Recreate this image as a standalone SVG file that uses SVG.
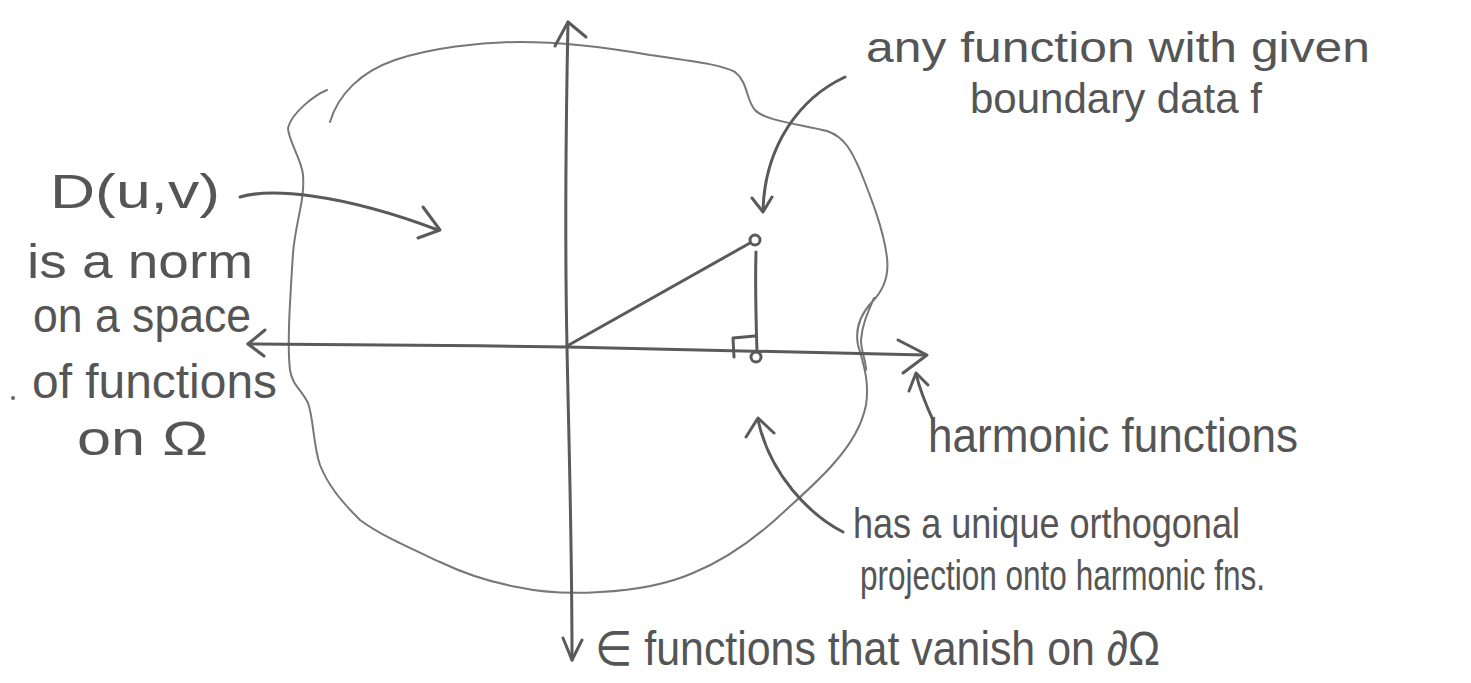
<svg xmlns="http://www.w3.org/2000/svg" width="1471" height="683" viewBox="0 0 1471 683">
<style>
.ink{fill:none;stroke:#5a5a5a;stroke-width:3;stroke-linecap:round;stroke-linejoin:round}
.thin{fill:none;stroke:#777;stroke-width:2;stroke-linecap:round;stroke-linejoin:round}
.lbl{font-family:"Liberation Sans","DejaVu Sans",sans-serif;font-size:48px;fill:#555}
.sm{font-size:43px}
</style>
<rect width="1471" height="683" fill="#fff"/>
<g id="region">
<path class="thin" d="M330,122 C338,95 360,72 395,60 C430,48 480,42 520,42 C560,42 610,48 650,55 C690,61 720,64 735,72 C748,82 746,100 755,110 C765,121 800,124 827,131 C845,137 852,152 860,170 C870,195 884,230 887,258 C889,275 884,290 872,302 C860,315 855,330 858,345 C862,360 870,380 866,405 C862,425 850,445 835,462 C820,480 800,497 775,520 C750,542 720,562 693,573 C670,583 640,590 600,592 C570,594 540,592 517,587 C490,582 465,574 440,562 C410,548 380,535 360,520 C340,500 328,485 320,465 C313,445 314,420 308,403 C302,390 292,385 290,370 C287,345 290,300 293,253 C296,220 305,200 303,175 C302,160 288,140 288,128 C292,112 315,95 327,90"/>
<path class="thin" d="M874,298 C868,312 862,325 861,340 C861,352 866,360 866,370"/>
</g>
<g id="axes">
<path class="ink" d="M568,22 C566,120 565,250 567,347 C569,450 572,540 572,660"/>
<path class="ink" d="M555,46 L568,22 L586,37"/>
<path class="ink" d="M563,638 L572,660 L582,640"/>
<path class="ink" d="M248,344 C350,345 460,345 567,347 C690,350 810,353 925,355"/>
<path class="ink" d="M265,330 L248,344 L264,356"/>
<path class="ink" d="M898,340 L927,355 L903,373"/>
</g>
<g id="projection">
<path class="ink" d="M567,346 L750,243"/>
<circle class="ink" cx="755" cy="240" r="5"/>
<path class="ink" d="M756,252 C755,285 756,320 757,352"/>
<circle class="ink" cx="756" cy="357" r="5"/>
<path class="ink" d="M734,357 L733,338 L755,336"/>
</g>
<g id="connectors">
<path class="ink" d="M240,197 C270,188 340,193 438,230"/>
<path class="ink" d="M423,207 L440,230 L418,238"/>
<path class="ink" d="M845,77 C800,98 765,145 763,210"/>
<path class="ink" d="M752,198 L763,212 L772,197"/>
<path class="ink" d="M843,532 C810,515 770,475 758,420"/>
<path class="ink" d="M746,437 L758,418 L774,433"/>
<path class="ink" d="M933,420 C926,405 920,390 916,374"/>
<path class="ink" d="M909,391 L916,373 L928,385"/>
</g>
<g id="labels">
<text class="lbl" x="50" y="208" font-size="68" textLength="170" lengthAdjust="spacingAndGlyphs">D(u,v)</text>
<text class="lbl" x="27" y="278" textLength="226" lengthAdjust="spacingAndGlyphs">is a norm</text>
<text class="lbl" x="33" y="332" textLength="218" lengthAdjust="spacingAndGlyphs">on a space</text>
<circle cx="13" cy="398" r="2" fill="#666"/>
<text class="lbl" x="32" y="398" textLength="245" lengthAdjust="spacingAndGlyphs">of functions</text>
<text class="lbl" x="77" y="455" textLength="131" lengthAdjust="spacingAndGlyphs">on Ω</text>
<text class="lbl sm" x="866" y="62" textLength="504" lengthAdjust="spacingAndGlyphs">any function with given</text>
<text class="lbl sm" x="970" y="113" textLength="292" lengthAdjust="spacingAndGlyphs">boundary data f</text>
<text class="lbl" x="928" y="452" textLength="370" lengthAdjust="spacingAndGlyphs">harmonic functions</text>
<text class="lbl sm" x="853" y="538" textLength="387" lengthAdjust="spacingAndGlyphs">has a unique orthogonal</text>
<text class="lbl sm" x="860" y="590" textLength="405" lengthAdjust="spacingAndGlyphs">projection onto harmonic fns.</text>
<text class="lbl" x="595" y="665" textLength="565" lengthAdjust="spacingAndGlyphs">∈ functions that vanish on ∂Ω</text>
</g>
</svg>
